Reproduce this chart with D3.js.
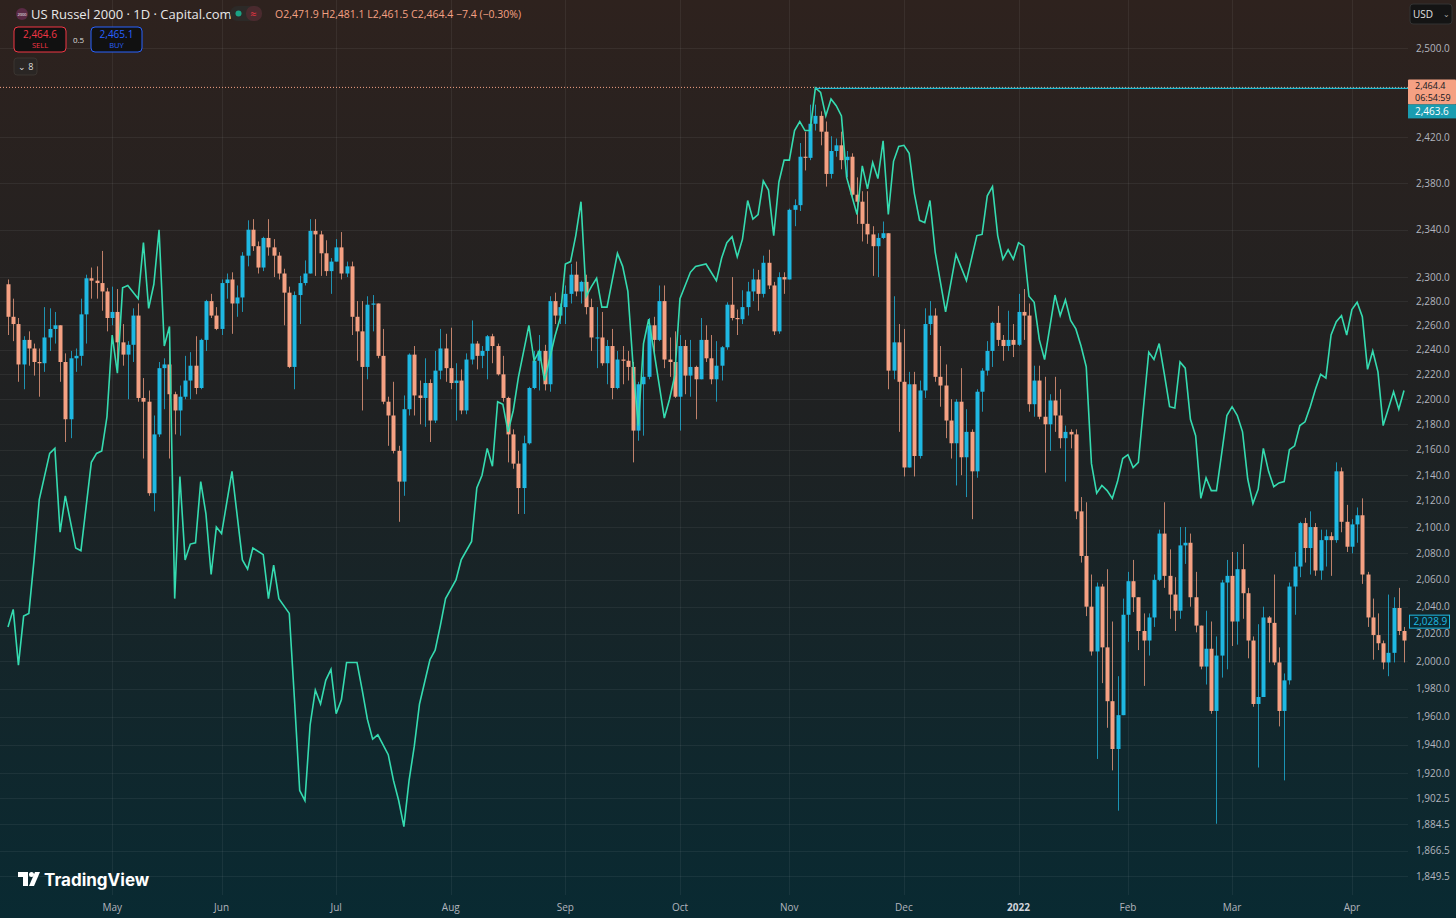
<!DOCTYPE html>
<html>
<head>
<meta charset="utf-8">
<script src="https://cdn.jsdelivr.net/npm/d3@7"></script>
<style>
  html, body { margin: 0; padding: 0; background: #0b2a30; overflow: hidden; }
  svg { display: block; font-family: "Open Sans", "Noto Sans", sans-serif; }
</style>
</head>
<body>
<svg id="chart" width="1456" height="918"></svg>
<script>
// ---DATA---//

var firstOpen = 2294;

var closes = [2267,2261,2228,2248,2241,2230,2229,2250,2257,2260,2230,2184,2233,2235,2269,2299,2297,2295,2288,2266,
  2271,2246,2236,2244,2268,2201,2198,2126,2172,2225,2228,2204,2191,2202,2215,2227,2209,2248,2280,2268,
  2257,2295,2298,2278,2283,2318,2340,2326,2308,2333,2325,2318,2303,2287,2226,2285,2295,2303,2339,2336,
  2320,2305,2313,2325,2303,2309,2267,2255,2226,2277,2278,2235,2198,2187,2159,2135,2192,2236,2203,2201,
  2213,2183,2223,2241,2225,2213,2215,2191,2232,2245,2235,2239,2251,2243,2220,2201,2172,2149,2130,2165,
  2209,2231,2239,2212,2280,2268,2275,2286,2302,2288,2296,2275,2250,2250,2229,2243,2209,2232,2231,2226,
  2175,2212,2218,2260,2248,2280,2232,2230,2202,2243,2219,2226,2216,2248,2233,2216,2227,2242,2277,2266,
  2265,2275,2288,2298,2286,2312,2293,2255,2300,2298,2357,2361,2403,2402,2432,2439,2425,2388,2408,2413,
  2400,2403,2370,2364,2345,2336,2326,2333,2337,2223,2246,2214,2146,2212,2155,2207,2261,2268,2218,2211,
  2183,2165,2198,2154,2174,2143,2206,2223,2239,2262,2248,2243,2248,2244,2271,2268,2196,2215,2186,2180,
  2199,2187,2169,2174,2172,2112,2078,2040,2007,2055,2010,1971,1937,1961,2034,2059,2047,2022,2015,2032,
  2060,2095,2063,2049,2037,2086,2088,2047,2026,1996,2009,1964,2004,2058,2063,2029,2068,2050,2015,1969,
  1974,2032,2028,1999,1964,1986,2055,2070,2103,2084,2100,2067,2090,2093,2090,2143,2104,2085,2102,2109,
  2064,2032,2019,2013,1999,2006,2039,2022,2015];

var highs = [2298,2282,2266,2251,2255,2245,2241,2275,2274,2271,2257,2237,2239,2241,2282,2302,2308,2309,2322,2291,
  2292,2290,2261,2247,2274,2278,2217,2207,2187,2230,2233,2245,2206,2211,2235,2238,2251,2249,2281,2286,
  2275,2298,2303,2304,2293,2321,2348,2349,2330,2334,2349,2332,2321,2307,2292,2288,2301,2314,2349,2349,
  2339,2331,2316,2332,2338,2313,2313,2280,2280,2284,2285,2278,2257,2202,2214,2163,2203,2237,2243,2215,
  2233,2216,2239,2257,2253,2258,2229,2224,2237,2264,2247,2243,2252,2253,2245,2235,2202,2176,2159,2171,
  2210,2239,2252,2244,2284,2287,2278,2293,2311,2313,2297,2302,2282,2275,2271,2248,2257,2239,2243,2239,
  2230,2214,2245,2266,2267,2293,2293,2250,2255,2252,2248,2248,2227,2266,2260,2252,2247,2243,2279,2300,
  2273,2289,2296,2307,2306,2318,2323,2296,2304,2304,2358,2366,2415,2425,2449,2449,2443,2434,2421,2419,
  2425,2408,2406,2385,2373,2373,2343,2337,2347,2337,2284,2261,2257,2222,2222,2215,2274,2280,2274,2243,
  2228,2200,2200,2225,2192,2176,2208,2225,2247,2263,2276,2252,2272,2261,2286,2290,2278,2227,2227,2218,
  2204,2218,2208,2179,2176,2176,2123,2119,2064,2058,2057,2068,2029,1989,2046,2066,2075,2047,2035,2035,
  2064,2098,2119,2083,2062,2100,2100,2095,2066,2025,2037,2029,2018,2060,2075,2081,2081,2087,2054,2018,
  2027,2040,2033,2064,2010,1991,2058,2081,2104,2107,2112,2103,2098,2098,2096,2150,2146,2117,2106,2115,
  2122,2066,2046,2035,2015,2049,2047,2054,2025];

var lows = [2252,2247,2214,2208,2227,2219,2202,2222,2239,2245,2214,2166,2169,2222,2227,2245,2282,2282,2272,2255,
  2260,2222,2227,2200,2230,2198,2153,2124,2112,2170,2192,2153,2172,2171,2200,2200,2204,2208,2239,2266,
  2256,2252,2282,2253,2267,2271,2309,2322,2303,2305,2318,2300,2298,2260,2225,2208,2261,2293,2303,2301,
  2301,2301,2286,2313,2298,2300,2252,2231,2191,2216,2255,2233,2196,2163,2157,2104,2124,2187,2187,2180,
  2178,2166,2181,2216,2214,2208,2183,2188,2188,2228,2224,2225,2216,2229,2219,2198,2150,2145,2110,2110,
  2164,2208,2207,2207,2206,2261,2261,2261,2278,2284,2278,2269,2239,2225,2227,2212,2200,2208,2212,2215,
  2150,2167,2171,2216,2235,2247,2225,2218,2201,2175,2204,2202,2184,2216,2230,2212,2198,2215,2240,2264,
  2252,2261,2268,2280,2272,2283,2290,2252,2253,2286,2301,2343,2356,2391,2400,2426,2413,2377,2384,2403,
  2392,2385,2366,2345,2330,2328,2301,2300,2332,2208,2216,2174,2139,2146,2139,2153,2201,2252,2214,2194,
  2169,2153,2132,2140,2123,2106,2138,2190,2219,2226,2243,2231,2239,2234,2243,2248,2190,2186,2184,2142,
  2159,2174,2161,2135,2161,2106,2073,2033,2004,1930,1984,1952,1922,1894,1964,2014,2036,2008,1982,2004,
  2025,2059,2054,2031,2022,2031,2072,2040,2021,1994,1983,1962,1885,1988,1994,2011,2012,2031,2002,1967,
  1924,1974,1999,1997,1953,1915,1983,2034,2062,2073,2064,2063,2060,2070,2063,2088,2096,2081,2080,2088,
  2057,2025,2001,2008,1994,1989,1999,2019,1999];

// comparison line: bar index of each vertex and its value
var lineIdx = [0,1,2,3,4,5,6,8,9,10,11,13,14,16,17,18,19,20,21,22,23,25,26,27,28,29,30,31,32,33,34,35,36,37,38,39,40,41,43,45,
  46,47,49,50,51,52,54,55,56,57,58,59,60,61,62,63,64,65,67,68,69,70,71,73,74,75,76,77,78,79,81,82,83,84,86,87,89,90,91,92,
  93,94,95,96,97,98,100,101,102,103,105,106,107,108,109,110,111,112,113,114,115,117,118,119,120,121,122,123,124,125,126,127,128,129,131,132,134,136,137,138,
  139,140,141,142,143,144,145,146,147,148,149,150,151,152,153,154,155,156,157,158,159,160,161,163,164,165,166,167,168,169,170,171,172,173,174,175,176,177,178,180,
  182,184,186,187,188,189,190,191,192,193,194,195,196,197,198,199,201,202,203,204,205,206,207,208,209,210,211,212,213,214,215,216,217,218,219,220,221,222,223,224,
  225,226,227,228,229,230,231,232,233,234,235,236,237,238,239,240,241,242,243,244,245,246,247,248,249,250,251,252,253,254,255,256,257,258,259,260,261,262,263,264,
  266,267,268];
var lineVal = [2025,2038,1997,2033,2035,2075,2121,2157,2161,2096,2124,2084,2082,2150,2157,2159,2186,2252,2221,2291,2293,2282,2329,2274,2294,2340,2243,2259,2046,2139,2075,2087,2088,2135,2110,2064,2100,2095,2143,2075,
  2068,2084,2079,2046,2071,2046,2035,1972,1908,1901,1954,1979,1969,1986,1994,1962,1972,1999,1999,1979,1958,1944,1947,1933,1915,1901,1883,1915,1939,1969,2001,2008,2026,2046,2060,2075,2089,2130,2140,2161,
  2147,2198,2196,2174,2191,2218,2260,2231,2239,2215,2251,2266,2311,2313,2335,2364,2284,2292,2299,2275,2275,2320,2309,2288,2227,2179,2245,2265,2239,2212,2185,2200,2219,2282,2304,2309,2311,2297,2316,2329,
  2334,2317,2332,2365,2349,2353,2382,2374,2335,2381,2400,2400,2426,2434,2426,2426,2464,2460,2439,2454,2448,2439,2385,2353,2395,2375,2398,2384,2417,2353,2399,2412,2413,2406,2371,2348,2346,2365,2321,2271,
  2319,2297,2335,2336,2369,2377,2335,2315,2323,2315,2329,2326,2284,2279,2248,2232,2285,2268,2281,2264,2257,2243,2226,2149,2126,2132,2128,2122,2135,2153,2156,2146,2150,2194,2238,2232,2245,2220,2194,2193,
  2230,2225,2184,2171,2122,2138,2128,2128,2157,2187,2194,2187,2174,2137,2118,2129,2161,2143,2131,2134,2135,2160,2163,2179,2182,2194,2208,2220,2217,2252,2263,2268,2252,2273,2279,2267,2224,2239,2222,2179,
  2206,2192,2207];

// first bar of each month
var monthIdx = [20, 41, 63, 85, 107, 129, 150, 172, 194, 215, 235, 258];
var monthLabels = ["May", "Jun", "Jul", "Aug", "Sep", "Oct", "Nov", "Dec", "2022", "Feb", "Mar", "Apr"];

var priceTicks = [2500, 2420, 2380, 2340, 2300, 2280, 2260, 2240, 2220, 2200, 2180, 2160, 2140, 2120, 2100,
  2080, 2060, 2040, 2020, 2000, 1980, 1960, 1940, 1920, 1902.5, 1884.5, 1866.5, 1849.5];

var lastPrice = 2464.4;
var linePrice = 2463.6;
var markerPrice = 2028.9;

// ---SETUP---//

var W = 1456, H = 918;
var upColor = "#1fb8e2", downColor = "#f5a183", lineColor = "#35dbb0";
var svg = d3.select("#chart");

var defs = svg.append("defs");
var grad = defs.append("linearGradient").attr("id", "bg").attr("x1", 0).attr("y1", 0).attr("x2", 0).attr("y2", 1);
grad.append("stop").attr("offset", "0%").attr("stop-color", "#2e221e");
grad.append("stop").attr("offset", "45%").attr("stop-color", "#1f2122");
grad.append("stop").attr("offset", "100%").attr("stop-color", "#092a32");
svg.append("rect").attr("width", W).attr("height", H).attr("fill", "url(#bg)");

var x = d3.scaleLinear().domain([0, closes.length - 1]).range([8, 1404]);
var y = d3.scaleLog().domain([1849.5, 2500]).range([876, 48]);

var fmt = d3.format(",.1f");

// grid
var grid = svg.append("g").attr("class", "grid");
grid.selectAll("line.h").data(priceTicks).enter().append("line")
  .attr("x1", 0).attr("x2", 1408)
  .attr("y1", function(d) { return Math.round(y(d)) + 0.5; })
  .attr("y2", function(d) { return Math.round(y(d)) + 0.5; })
  .attr("stroke", "rgba(255,255,255,0.06)");
grid.selectAll("line.v").data(monthIdx).enter().append("line")
  .attr("x1", function(d) { return Math.round(x(d)) + 0.5; })
  .attr("x2", function(d) { return Math.round(x(d)) + 0.5; })
  .attr("y1", 0).attr("y2", 895)
  .attr("stroke", "rgba(255,255,255,0.06)");

// last price dotted line
svg.append("line").attr("x1", 0).attr("x2", 1408)
  .attr("y1", y(lastPrice)).attr("y2", y(lastPrice))
  .attr("stroke", downColor).attr("stroke-dasharray", "1,2").attr("stroke-width", 1);

// ---CANDLES---//

var bars = closes.map(function(c, i) {
  return { i: i, o: i === 0 ? firstOpen : closes[i - 1], h: highs[i], l: lows[i], c: c };
});

var candles = svg.append("g").attr("class", "candles");
candles.selectAll("line").data(bars).enter().append("line")
  .attr("x1", function(d) { return Math.round(x(d.i)) + 0.5; })
  .attr("x2", function(d) { return Math.round(x(d.i)) + 0.5; })
  .attr("y1", function(d) { return y(Math.max(d.h, d.o, d.c)); })
  .attr("y2", function(d) { return y(Math.min(d.l, d.o, d.c)); })
  .attr("stroke", function(d) { return d.c >= d.o ? upColor : downColor; })
  .attr("stroke-opacity", 0.75);
candles.selectAll("rect").data(bars).enter().append("rect")
  .attr("x", function(d) { return Math.round(x(d.i)) - 1.5; })
  .attr("width", 4)
  .attr("y", function(d) { return y(Math.max(d.o, d.c)); })
  .attr("height", function(d) { return Math.max(1, Math.abs(y(d.o) - y(d.c))); })
  .attr("fill", function(d) { return d.c >= d.o ? upColor : downColor; });

// ---COMPARISON LINE---//

var pts = lineIdx.map(function(d, k) { return [d, lineVal[k]]; });
svg.append("path").datum(pts)
  .attr("d", d3.line().x(function(d) { return x(d[0]); }).y(function(d) { return y(d[1]); }))
  .attr("fill", "none").attr("stroke", lineColor).attr("stroke-width", 1.6);

// level line from the line's high
var peakK = lineVal.indexOf(d3.max(lineVal));
svg.append("line").attr("x1", x(lineIdx[peakK])).attr("x2", 1408)
  .attr("y1", y(linePrice)).attr("y2", y(linePrice))
  .attr("stroke", "#1fb8d0").attr("stroke-width", 1.2);

// ---PRICE AXIS---//

var axisG = svg.append("g");
axisG.selectAll("text").data(priceTicks).enter().append("text")
  .attr("x", 1416).attr("y", function(d) { return y(d) + 3.5; })
  .attr("fill", "#b2b5be").attr("font-size", 10)
  .text(function(d) { return fmt(d); });

// last price label
var lp = svg.append("g").attr("transform", "translate(1408," + (y(lastPrice) - 8) + ")");
lp.append("rect").attr("width", 48).attr("height", 25).attr("fill", "#f5a183").attr("rx", 1);
lp.append("text").attr("x", 7).attr("y", 10).attr("font-size", 9).attr("fill", "#131722").text(fmt(lastPrice));
lp.append("text").attr("x", 7).attr("y", 21.5).attr("font-size", 9).attr("fill", "#131722").text("06:54:59");
var lpl = svg.append("g").attr("transform", "translate(1408," + (y(lastPrice) + 17) + ")");
lpl.append("rect").attr("width", 48).attr("height", 14).attr("fill", "#1a9cb0");
lpl.append("text").attr("x", 7).attr("y", 10.5).attr("font-size", 10).attr("fill", "#ffffff").text(fmt(linePrice));
var mk = svg.append("g").attr("transform", "translate(1409.5," + (y(markerPrice) - 6.5) + ")");
mk.append("rect").attr("width", 40).attr("height", 13).attr("fill", "#0b2a30").attr("stroke", upColor);
mk.append("text").attr("x", 4).attr("y", 10).attr("font-size", 10).attr("fill", upColor).text(fmt(markerPrice));

// currency box
var cur = svg.append("g").attr("transform", "translate(1410,4)");
cur.append("rect").attr("width", 42).attr("height", 20).attr("rx", 3).attr("fill", "#141414").attr("stroke", "#333");
cur.append("text").attr("x", 3).attr("y", 14).attr("font-size", 10).attr("fill", "#e0e0e0").text("USD");
cur.append("text").attr("x", 33).attr("y", 13).attr("font-size", 8).attr("fill", "#aaa").text("⌄");

// ---TIME AXIS---//

svg.selectAll("text.month").data(monthIdx).enter().append("text")
  .attr("class", "month")
  .attr("x", function(d) { return x(d); }).attr("y", 911)
  .attr("text-anchor", "middle").attr("font-size", 10)
  .attr("fill", function(d, k) { return monthLabels[k] === "2022" ? "#d1d4dc" : "#b2b5be"; })
  .attr("font-weight", function(d, k) { return monthLabels[k] === "2022" ? "bold" : "normal"; })
  .text(function(d, k) { return monthLabels[k]; });

// ---HEADER---//

var hd = svg.append("g");
hd.append("circle").attr("cx", 22).attr("cy", 14).attr("r", 6).attr("fill", "#5a2a45");
hd.append("text").attr("x", 22).attr("y", 16).attr("text-anchor", "middle").attr("font-size", 4).attr("fill", "#fff").text("2000");
hd.append("text").attr("x", 31).attr("y", 18.5).attr("font-size", 13).attr("fill", "#e8e8e8").text("US Russel 2000 · 1D · Capital.com");
hd.append("rect").attr("x", 230).attr("y", 6).attr("width", 32).attr("height", 15).attr("rx", 7.5).attr("fill", "#2c2a28");
hd.append("rect").attr("x", 246).attr("y", 6).attr("width", 16).attr("height", 15).attr("rx", 7).attr("fill", "#4a2a2e");
hd.append("circle").attr("cx", 238.5).attr("cy", 13.5).attr("r", 3).attr("fill", "#1aa385");
hd.append("text").attr("x", 250).attr("y", 17.5).attr("font-size", 11).attr("fill", "#f23645").text("≈");
hd.append("text").attr("x", 275).attr("y", 17.5).attr("font-size", 10.5).attr("fill", "#f5a183")
  .text("O2,471.9  H2,481.1  L2,461.5  C2,464.4  −7.4 (−0.30%)");

var sell = hd.append("g").attr("transform", "translate(14,27)");
sell.append("rect").attr("width", 52).attr("height", 25).attr("rx", 4).attr("fill", "#111").attr("stroke", "#f23645");
sell.append("text").attr("x", 26).attr("y", 11).attr("text-anchor", "middle").attr("font-size", 10).attr("fill", "#f23645").text("2,464.6");
sell.append("text").attr("x", 26).attr("y", 21).attr("text-anchor", "middle").attr("font-size", 7.5).attr("fill", "#f23645").text("SELL");
hd.append("text").attr("x", 78.5).attr("y", 43).attr("text-anchor", "middle").attr("font-size", 8).attr("fill", "#ddd").text("0.5");
var buy = hd.append("g").attr("transform", "translate(91,27)");
buy.append("rect").attr("width", 51).attr("height", 25).attr("rx", 4).attr("fill", "#111").attr("stroke", "#2962ff");
buy.append("text").attr("x", 25.5).attr("y", 11).attr("text-anchor", "middle").attr("font-size", 10).attr("fill", "#2962ff").text("2,465.1");
buy.append("text").attr("x", 25.5).attr("y", 21).attr("text-anchor", "middle").attr("font-size", 7.5).attr("fill", "#2962ff").text("BUY");
var eb = hd.append("g").attr("transform", "translate(14,58)");
eb.append("rect").attr("width", 23).attr("height", 17).attr("rx", 3).attr("fill", "#2a2624").attr("stroke", "#3a3430");
eb.append("text").attr("x", 4).attr("y", 12).attr("font-size", 9).attr("fill", "#ddd").text("⌄ 8");

// ---LOGO---//

var logo = svg.append("g").attr("transform", "translate(18,872)");
logo.append("path").attr("d", "M0 0 H10 V14 H5 V5 H0 Z").attr("fill", "#fff");
logo.append("circle").attr("cx", 13.5).attr("cy", 2.5).attr("r", 2.5).attr("fill", "#fff");
logo.append("path").attr("d", "M17 0 H22 L16 14 H11 Z").attr("fill", "#fff");
logo.append("text").attr("x", 26).attr("y", 14).attr("font-size", 17).attr("font-weight", "bold")
  .attr("fill", "#fff").attr("font-family", "Inter, 'Open Sans', sans-serif").text("TradingView");
</script>
</body>
</html>
